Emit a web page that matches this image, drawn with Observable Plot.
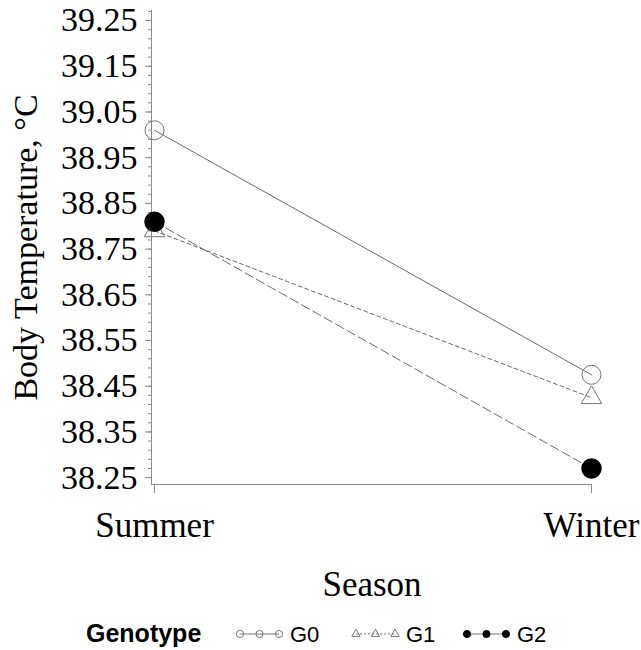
<!DOCTYPE html>
<html>
<head>
<meta charset="utf-8">
<script src="https://cdn.jsdelivr.net/npm/d3@7"></script>
<script src="https://cdn.jsdelivr.net/npm/@observablehq/plot@0.6"></script>
<style>
  body { margin: 0; background: white; }
  #chart svg { display: block; }
  #legend { display: block; }
</style>
</head>
<body>
<div id="chart"></div>
<script>
const seasons = ["Summer", "Winter"];
const genotypes = ["G0", "G1", "G2"];
const g0Temp = [39.01, 38.475];
const g1Temp = [38.79, 38.425];
const g2Temp = [38.81, 38.27];
const yTicks = [38.25, 38.35, 38.45, 38.55, 38.65, 38.75, 38.85, 38.95, 39.05, 39.15, 39.25];
const yDomain = [38.235, 39.272];
const minorTicks = d3.range(0, 51).map(i => 38.25 + i * 0.02).concat([39.27]);

const series = [g0Temp, g1Temp, g2Temp];
const data = genotypes.flatMap((g, i) => seasons.map((s, j) => ({genotype: g, season: s, temp: series[i][j]})));
const byG = g => data.filter(d => d.genotype === g);

const axisColor = "#8a8a8a";
const lineColor = "#6a6a6a";

const plot = Plot.plot({
  width: 641,
  height: 605,
  marginLeft: 151,
  marginRight: 49,
  marginTop: 10,
  marginBottom: 121,
  style: {fontFamily: "'Liberation Serif', 'Times New Roman', serif", fontSize: "34px", background: "white", color: "black"},
  x: {type: "point", domain: seasons, range: [154, 591], padding: 0},
  y: {domain: yDomain},
  marks: [
    Plot.ruleY([yDomain[0]], {stroke: axisColor}),
    Plot.ruleX(["Summer"], {y1: yDomain[0], y2: yDomain[1], dx: -3, stroke: axisColor}),
    Plot.axisY(minorTicks, {tickSize: 3, tickFormat: () => "", stroke: axisColor, label: null}),
    Plot.axisY(yTicks, {tickSize: 6, tickPadding: 8, tickFormat: d3.format(".2f"), stroke: axisColor, fill: "black", fontSize: 34, label: null}),
    Plot.axisX({tickSize: 9, tickPadding: 19, stroke: axisColor, fill: "black", fontSize: 35, label: null}),
    Plot.text(["Body Temperature, °C"], {text: d => d, frameAnchor: "left", rotate: -90, dx: -125, fontSize: 34, textAnchor: "middle", lineAnchor: "middle", fill: "black"}),
    Plot.text(["Season"], {text: d => d, frameAnchor: "bottom", dy: 100, fontSize: 35, lineAnchor: "middle", fill: "black"}),
    Plot.line(byG("G0"), {x: "season", y: "temp", stroke: lineColor, strokeWidth: 1}),
    Plot.line(byG("G1"), {x: "season", y: "temp", stroke: lineColor, strokeWidth: 1, strokeDasharray: "4,3"}),
    Plot.line(byG("G2"), {x: "season", y: "temp", stroke: lineColor, strokeWidth: 1, strokeDasharray: "9,4"}),
    Plot.dot(byG("G0"), {x: "season", y: "temp", symbol: "circle", r: 9.5, stroke: "#777", fill: "none", strokeWidth: 1}),
    Plot.dot(byG("G1"), {x: "season", y: "temp", symbol: "triangle", r: 7.6, stroke: "#777", fill: "none", strokeWidth: 1}),
    Plot.dot(byG("G2"), {x: "season", y: "temp", symbol: "circle", r: 9.5, stroke: "black", fill: "black"})
  ]
});
document.getElementById("chart").appendChild(plot);

// Legend below the plot
const legendItems = [
  {label: genotypes[0], x: 240, symbol: d3.symbolCircle, fill: "none", stroke: "#777", dash: null},
  {label: genotypes[1], x: 356, symbol: d3.symbolTriangle, fill: "none", stroke: "#777", dash: "2,2"},
  {label: genotypes[2], x: 467, symbol: d3.symbolCircle, fill: "black", stroke: "black", dash: null}
];
const legend = d3.create("svg").attr("id", "legend").attr("width", 641).attr("height", 45)
  .style("font-family", "'Liberation Sans', Arial, sans-serif");
legend.append("text").attr("x", 86).attr("y", 37).attr("font-size", 25).attr("font-weight", "bold").text("Genotype");
for (const it of legendItems) {
  const g = legend.append("g");
  g.append("line").attr("x1", it.x).attr("x2", it.x + 39).attr("y1", 29).attr("y2", 29)
    .attr("stroke", "#777").attr("stroke-width", 1).attr("stroke-dasharray", it.dash);
  for (let k = 0; k < 3; k++) {
    g.append("path").attr("transform", `translate(${it.x + k * 19.5},29)`)
      .attr("d", d3.symbol(it.symbol, it.symbol === d3.symbolTriangle ? 30 : 40)())
      .attr("fill", it.fill === "none" ? "white" : it.fill).attr("fill-opacity", it.fill === "none" ? 0 : 1)
      .attr("stroke", it.stroke).attr("stroke-width", 1);
  }
  g.append("text").attr("x", it.x + 50).attr("y", 37).attr("font-size", 22).text(it.label);
}
document.body.appendChild(legend.node());
</script>
</body>
</html>
